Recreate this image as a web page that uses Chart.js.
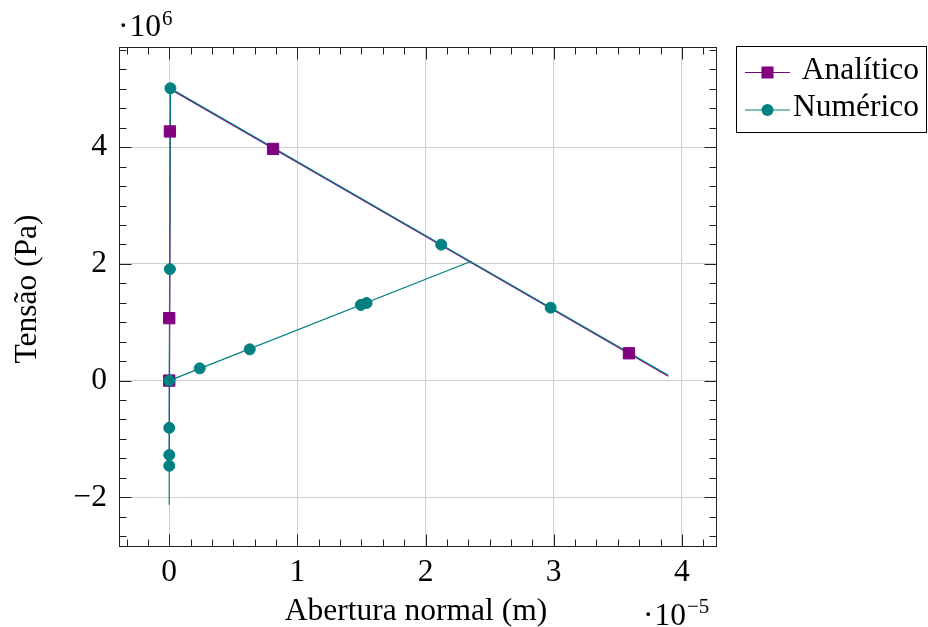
<!DOCTYPE html>
<html>
<head>
<meta charset="utf-8">
<script src="https://cdn.jsdelivr.net/npm/chart.js@4.4.0/dist/chart.umd.min.js"></script>
<style>
  html, body { margin: 0; padding: 0; background: #fff; }
  #wrap { width: 928px; height: 627px; position: relative; }
</style>
</head>
<body>
<div id="wrap"><canvas id="c" width="928" height="627"></canvas></div>
<script>
// ---- data (x in 10^-5 m, y in 10^6 Pa) ----
const seriesNames = ['Analítico', 'Numérico'];

const anaLineX = [0, 0.009, 3.894];
const anaLineY = [-1.46, 4.995, 0.075];
const anaMarkX = [0, 0, 0.005, 0.81, 3.587];
const anaMarkY = [0, 1.07, 4.27, 3.97, 0.468];

const numLineX = [0, 0, 0.009, 2.351, 3.894, null, 2.351, 0];
const numLineY = [-2.13, 0, 5.01, 2.04, 0.09, null, 2.04, 0];
const numMarkX = [0.009, 0.005, 0, 0, 0, 0, 2.122, 2.976, 0.238, 0.628, 1.495, 1.54];
const numMarkY = [5.01, 1.91, 0, -0.81, -1.275, -1.46, 2.33, 1.25, 0.21, 0.536, 1.296, 1.33];

const xTicks = [0, 1, 2, 3, 4];
const yTicks = [-2, 0, 2, 4];
const xLimits = [-0.392, 4.274];
const yLimits = [-2.852, 5.717];
const xTitle = 'Abertura normal (m)';
const yTitle = 'Tensão (Pa)';
const xExp = '−5';
const yExp = '6';

// ---- styles ----
const PURPLE = '#800080';
const TEAL = '#008080';
const FONT = "'Liberation Serif', 'Times New Roman', serif";
const FS = 31.5;

const pts = (xs, ys) => xs.map((x, i) => ({ x: x, y: ys[i] }));
const fmt = v => (v < 0 ? '\u2212' + Math.abs(v) : String(v));

const decor = {
  id: 'decor',
  afterDraw(chart) {
    const { ctx, chartArea: a, scales } = chart;
    const xs = scales.x, ys = scales.y;
    ctx.save();
    // frame
    const L = Math.round(a.left) + 0.5, R = Math.round(a.right) - 0.5;
    const T = Math.round(a.top) + 0.5, B = Math.round(a.bottom) - 0.5;
    ctx.strokeStyle = '#222';
    ctx.lineWidth = 1;
    ctx.strokeRect(L, T, R - L, B - T);
    // ticks (inward, all four sides), minor tick num = 5
    ctx.beginPath();
    const xStep = (xTicks[1] - xTicks[0]) / 6;
    for (let k = Math.ceil(xLimits[0] / xStep); k * xStep <= xLimits[1]; k++) {
      const v = k * xStep;
      const len = (k % 6 === 0) ? 12 : 7;
      const px = Math.round(xs.getPixelForValue(v)) + 0.5;
      ctx.moveTo(px, B); ctx.lineTo(px, B - len);
      ctx.moveTo(px, T); ctx.lineTo(px, T + len);
    }
    const yStep = (yTicks[1] - yTicks[0]) / 6;
    for (let k = Math.ceil(yLimits[0] / yStep); k * yStep <= yLimits[1]; k++) {
      const v = k * yStep;
      const len = (k % 6 === 0) ? 12 : 7;
      const py = Math.round(ys.getPixelForValue(v)) + 0.5;
      ctx.moveTo(L, py); ctx.lineTo(L + len, py);
      ctx.moveTo(R, py); ctx.lineTo(R - len, py);
    }
    ctx.stroke();

    ctx.fillStyle = '#000';
    ctx.textBaseline = 'alphabetic';
    // axis titles
    ctx.font = FS + 'px ' + FONT;
    ctx.textAlign = 'center';
    ctx.fillText(xTitle, (a.left + a.right) / 2 - 2, 620);
    ctx.save();
    ctx.translate(36, 289);
    ctx.rotate(-Math.PI / 2);
    ctx.fillText(yTitle, 0, 0);
    ctx.restore();

    // multipliers
    const mult = (x0, base, sup, supDy) => {
      ctx.textAlign = 'left';
      ctx.font = FS + 'px ' + FONT;
      ctx.fillText('\u00B7', x0, base);
      const w1 = ctx.measureText('\u00B7').width;
      ctx.fillText('10', x0 + w1 + 1, base);
      const w2 = ctx.measureText('10').width;
      ctx.font = '21px ' + FONT;
      ctx.fillText(sup, x0 + w1 + 1 + w2 + 1, base - supDy);
    };
    mult(118, 36, yExp, 11);
    mult(643, 625, xExp, 12);

    // legend
    const lx = 736.5, ly = 46.5, lw = 190, lh = 86;
    ctx.fillStyle = '#fff';
    ctx.fillRect(lx, ly, lw, lh);
    ctx.strokeStyle = '#000';
    ctx.lineWidth = 1;
    ctx.strokeRect(lx, ly, lw, lh);
    const rows = [72.5, 110];
    const cols = [PURPLE, TEAL];
    ctx.font = FS + 'px ' + FONT;
    ctx.textAlign = 'right';
    rows.forEach((ry, i) => {
      ctx.strokeStyle = cols[i];
      ctx.lineWidth = 1.2;
      ctx.beginPath();
      ctx.moveTo(745, ry); ctx.lineTo(790, ry);
      ctx.stroke();
      ctx.fillStyle = cols[i];
      if (i === 0) {
        ctx.fillRect(767.5 - 6, ry - 6, 12, 12);
      } else {
        ctx.beginPath();
        ctx.arc(767.5, ry, 6, 0, Math.PI * 2);
        ctx.fill();
      }
      ctx.fillStyle = '#000';
      ctx.fillText(seriesNames[i], 919, ry + 6);
    });
    ctx.restore();
  }
};

new Chart(document.getElementById('c'), {
  type: 'scatter',
  data: {
    datasets: [
      { label: seriesNames[0], data: pts(anaLineX, anaLineY), showLine: true, borderColor: PURPLE, borderWidth: 1.2, pointRadius: 0, order: 4 },
      { label: seriesNames[1], data: pts(numLineX, numLineY), showLine: true, borderColor: TEAL, borderWidth: 1.2, pointRadius: 0, order: 3, spanGaps: false },
      { label: seriesNames[0], data: pts(anaMarkX, anaMarkY), showLine: false, pointStyle: 'rect', pointRadius: 8, pointBackgroundColor: PURPLE, pointBorderColor: PURPLE, pointBorderWidth: 1, order: 2 },
      { label: seriesNames[1], data: pts(numMarkX, numMarkY), showLine: false, pointStyle: 'circle', pointRadius: 5.5, pointBackgroundColor: TEAL, pointBorderColor: TEAL, pointBorderWidth: 1, order: 1 }
    ]
  },
  options: {
    responsive: false,
    animation: false,
    devicePixelRatio: 1,
    events: [],
    layout: { padding: { left: 0, top: 47, right: 211, bottom: 0 } },
    plugins: { legend: { display: false }, tooltip: { enabled: false } },
    scales: {
      x: {
        type: 'linear', min: xLimits[0], max: xLimits[1],
        afterBuildTicks: s => { s.ticks = xTicks.map(v => ({ value: v })); },
        afterFit: s => { s.height = 80; },
        grid: { color: '#cfcfcf', lineWidth: 1, drawTicks: false },
        border: { display: false },
        ticks: { color: '#000', font: { family: FONT, size: FS }, padding: 7, maxRotation: 0, autoSkip: false, callback: v => fmt(v) }
      },
      y: {
        type: 'linear', min: yLimits[0], max: yLimits[1],
        afterBuildTicks: s => { s.ticks = yTicks.map(v => ({ value: v })); },
        afterFit: s => { s.width = 119; },
        grid: { color: '#cfcfcf', lineWidth: 1, drawTicks: false },
        border: { display: false },
        ticks: { color: '#000', font: { family: FONT, size: FS }, padding: 12, autoSkip: false, callback: v => fmt(v) }
      }
    }
  },
  plugins: [decor]
});
</script>
</body>
</html>
